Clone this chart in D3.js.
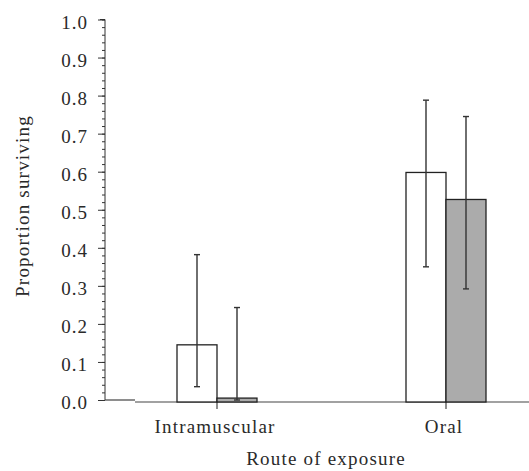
<!DOCTYPE html>
<html>
<head>
<meta charset="utf-8">
<script src="https://cdn.jsdelivr.net/npm/d3@7"></script>
<style>
body { margin: 0; background: #fff; }
text { font-family: "Liberation Serif", "DejaVu Serif", serif; fill: #2a2a2a; }
</style>
</head>
<body>
<svg width="529" height="471"></svg>
<script>
var svg = d3.select("svg");

// data
var routes = ["Intramuscular", "Oral"];
var groups = ["open", "shaded"];
var survival = [[0.145, 0.005], [0.598, 0.527]];
var errLow = [[0.035, 0.0], [0.35, 0.292]];
var errHigh = [[0.382, 0.243], [0.788, 0.745]];
var yTicks = [0, 0.1, 0.2, 0.3, 0.4, 0.5, 0.6, 0.7, 0.8, 0.9, 1.0];

var y = d3.scaleLinear().domain([0, 1]).range([400, 19.5]);
var x = d3.scalePoint().domain(routes).range([217, 446]);
var xs = d3.scaleBand().domain(groups).range([-40, 40]);

// y axis with minor ticks
var axisX = 105;
svg.append("g")
    .attr("transform", "translate(" + axisX + ",0)")
    .call(d3.axisLeft(y).tickValues(d3.range(0, 1.001, 0.02)).tickSize(3).tickFormat(""))
    .call(function(g) { g.select(".domain").remove(); g.selectAll("line").attr("stroke", "#333"); });
var ay = svg.append("g")
    .attr("transform", "translate(" + axisX + ",0)")
    .call(d3.axisLeft(y).tickValues(yTicks).tickSize(7).tickPadding(10).tickFormat(d3.format(".1f")));
ay.select(".domain").attr("d", "M-5," + y(1) + "H0V" + y(0)).attr("stroke", "#333");
ay.selectAll("line").attr("stroke", "#333");
ay.selectAll("text")
    .attr("dy", "0.45em")
    .style("font-size", "19px")
    .style("letter-spacing", "1px")
    .style("font-family", "Liberation Serif")
    .attr("fill", "#2a2a2a");

// baseline
svg.append("line")
    .attr("x1", axisX).attr("x2", 135)
    .attr("y1", y(0)).attr("y2", y(0))
    .attr("stroke", "#444").attr("stroke-width", 1.2);
svg.append("line")
    .attr("x1", 135).attr("x2", 529)
    .attr("y1", y(0) + 2).attr("y2", y(0) + 2)
    .attr("stroke", "#444").attr("stroke-width", 1.2);

// category ticks
svg.append("g").selectAll("line")
    .data(routes)
    .enter().append("line")
    .attr("x1", function(d) { return x(d); }).attr("x2", function(d) { return x(d); })
    .attr("y1", y(0)).attr("y2", y(0) + 9)
    .attr("stroke", "#444").attr("stroke-width", 1.2);

// bars
var flat = [];
routes.forEach(function(r, i) {
    groups.forEach(function(g, j) {
        flat.push({route: r, group: g, v: survival[i][j], lo: errLow[i][j], hi: errHigh[i][j]});
    });
});

svg.append("g").selectAll("rect")
    .data(flat)
    .enter().append("rect")
    .attr("x", function(d) { return x(d.route) + xs(d.group); })
    .attr("width", xs.bandwidth())
    .attr("y", function(d) { return y(d.v); })
    .attr("height", function(d) { return y(0) + 2 - y(d.v); })
    .attr("fill", function(d) { return d.group == "shaded" ? "#ababab" : "#fff"; })
    .attr("stroke", "#222")
    .attr("stroke-width", 1.3);

// error bars
var eb = svg.append("g").selectAll("g")
    .data(flat)
    .enter().append("g")
    .attr("stroke", "#333")
    .attr("stroke-width", 1.4);
function cx(d) { return x(d.route) + xs(d.group) + xs.bandwidth() / 2; }
eb.append("line")
    .attr("x1", cx).attr("x2", cx)
    .attr("y1", function(d) { return y(d.hi); })
    .attr("y2", function(d) { return y(d.lo); });
eb.append("line")
    .attr("x1", function(d) { return cx(d) - 3; }).attr("x2", function(d) { return cx(d) + 3; })
    .attr("y1", function(d) { return y(d.hi); }).attr("y2", function(d) { return y(d.hi); });
eb.append("line")
    .attr("x1", function(d) { return cx(d) - 3; }).attr("x2", function(d) { return cx(d) + 3; })
    .attr("y1", function(d) { return y(d.lo); }).attr("y2", function(d) { return y(d.lo); });

// category labels
svg.append("g").selectAll("text")
    .data(routes)
    .enter().append("text")
    .attr("x", function(d) { return x(d) - 2; })
    .attr("y", 433)
    .attr("text-anchor", "middle")
    .style("font-size", "19px")
    .style("letter-spacing", "1.2px")
    .text(function(d) { return d; });

// axis titles
svg.append("text")
    .attr("x", 326).attr("y", 465)
    .attr("text-anchor", "middle")
    .style("font-size", "19px")
    .style("letter-spacing", "1.2px")
    .text("Route of exposure");
svg.append("text")
    .attr("transform", "translate(29,206) rotate(-90)")
    .attr("text-anchor", "middle")
    .style("font-size", "19px")
    .style("letter-spacing", "1.2px")
    .text("Proportion surviving");
</script>
</body>
</html>
